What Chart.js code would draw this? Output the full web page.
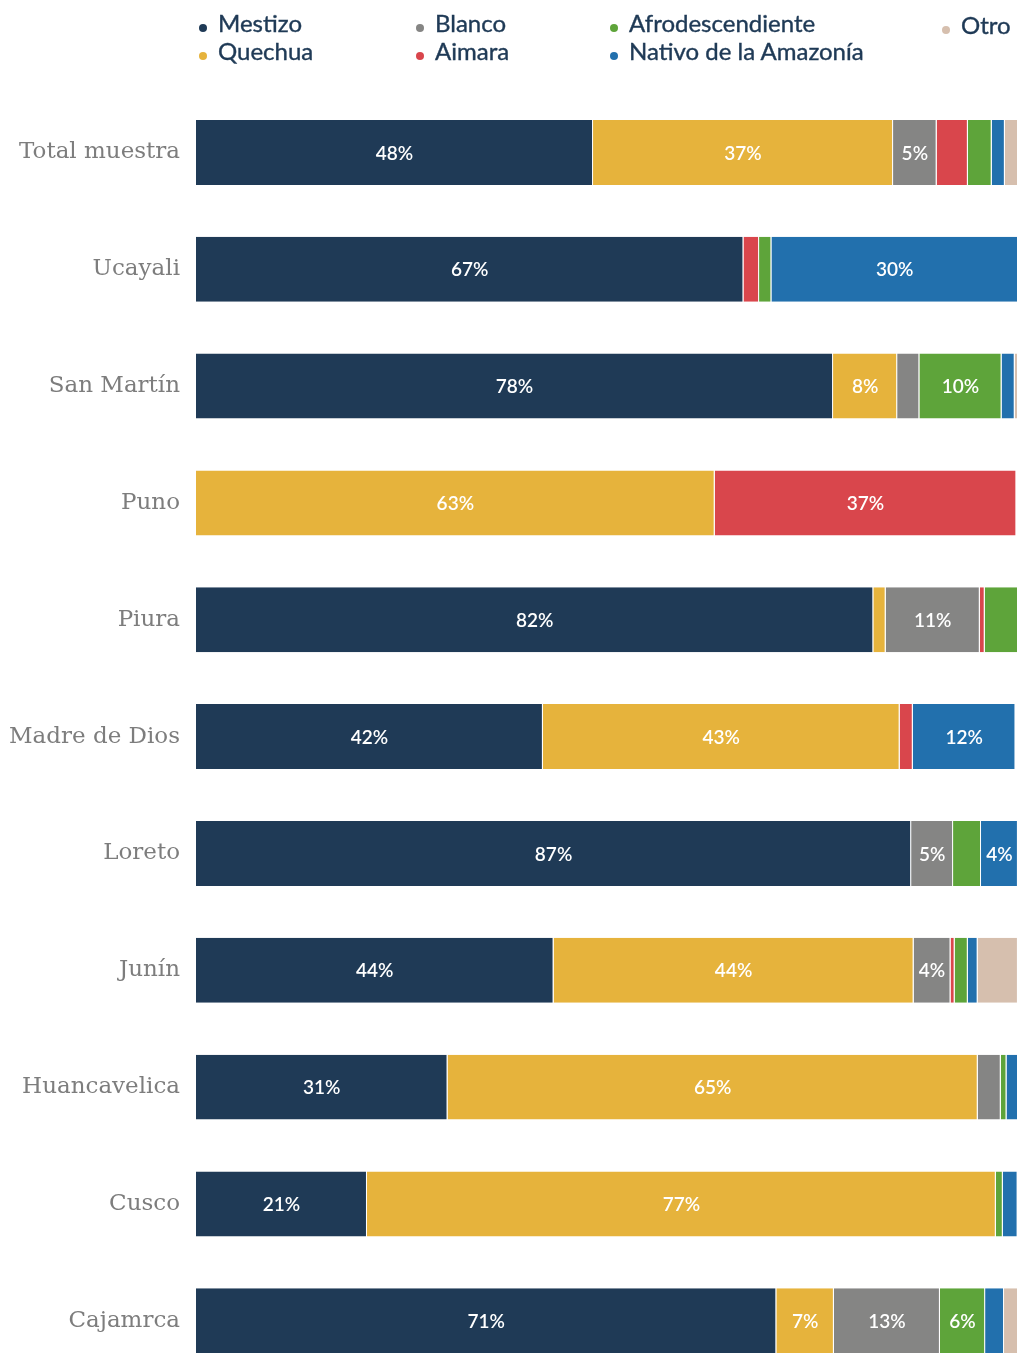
<!DOCTYPE html>
<html lang="es">
  <head>
    <meta charset="UTF-8" />
    <script src="https://cdn.jsdelivr.net/npm/chart.js@4.4.0/dist/chart.umd.min.js"></script>
    <title>Autoidentificación étnica por región</title>
    <style>
      body {
        margin: 0;
        padding: 0;
        background: #fff;
        overflow: hidden;
      }

      .wrap {
        position: relative;
        width: 1018px;
        height: 1401px;
      }

      .legend {
        position: absolute;
        left: 0;
        top: 0;
        width: 1018px;
        height: 80px;
        font-family: Lato, sans-serif;
        font-size: 24px;
        color: #1f3a56;
        -webkit-text-stroke: 0.4px #1f3a56;
      }

      .legend span {
        position: absolute;
        white-space: nowrap;
        line-height: 28px;
      }

      .legend i {
        position: absolute;
        width: 8px;
        height: 8px;
        border-radius: 50%;
      }
    </style>
  </head>
  <body>
    <div class="wrap">
      <div class="legend" id="legend"></div>
      <canvas id="chart" width="1018" height="1401"></canvas>
    </div>
    <script>
      const regions = ['Total muestra', 'Ucayali', 'San Martín', 'Puno', 'Piura', 'Madre de Dios', 'Loreto', 'Junín', 'Huancavelica', 'Cusco', 'Cajamrca']

      const mestizo = [48.3, 66.6, 77.5, 0, 82.4, 42.2, 87.0, 43.5, 30.6, 20.8, 70.6]
      const quechua = [36.5, 0, 7.8, 63.1, 1.5, 43.4, 0, 43.8, 64.5, 76.5, 7.0]
      const blanco = [5.3, 0, 2.7, 0, 11.45, 0, 5.1, 4.49, 2.8, 0, 12.9]
      const aimara = [3.8, 1.9, 0, 36.7, 0.6, 1.6, 0, 0.5, 0, 0, 0]
      const afro = [2.9, 1.5, 10.0, 0, 4.05, 0, 3.4, 1.6, 0.7, 0.85, 5.5]
      const nativo = [1.6, 30.0, 1.6, 0, 0, 12.49, 4.49, 1.2, 1.4, 1.8, 2.3]
      const otro = [1.6, 0, 0.4, 0, 0, 0, 0, 4.9, 0, 0, 1.7]

      const groups = [
        { name: 'Mestizo', data: mestizo, color: '#1f3a56' },
        { name: 'Quechua', data: quechua, color: '#e6b33c' },
        { name: 'Blanco', data: blanco, color: '#858584' },
        { name: 'Aimara', data: aimara, color: '#d9464c' },
        { name: 'Afrodescendiente', data: afro, color: '#5ea43a' },
        { name: 'Nativo de la Amazonía', data: nativo, color: '#2270ad' },
        { name: 'Otro', data: otro, color: '#d6bfae' },
      ]

      // legend laid out column by column, like the original
      const legendSlots = [
        [203, 9], [203, 37], [420, 9], [420, 37], [614, 9], [614, 37], [946, 11],
      ]
      const legendEl = document.getElementById('legend')
      groups.forEach((g, i) => {
        const [x, y] = legendSlots[i]
        const dot = document.createElement('i')
        dot.style.left = x - 4 + 'px'
        dot.style.top = y + 15 + 'px'
        dot.style.background = g.color
        const txt = document.createElement('span')
        txt.style.left = x + 15 + 'px'
        txt.style.top = y + 'px'
        txt.textContent = g.name
        legendEl.appendChild(dot)
        legendEl.appendChild(txt)
      })

      const barLabels = {
        id: 'barLabels',
        afterDatasetsDraw(chart) {
          const ctx = chart.ctx
          ctx.save()
          ctx.fillStyle = '#ffffff'
          ctx.font = '600 19px Lato'
          ctx.textAlign = 'center'
          ctx.textBaseline = 'middle'
          chart.data.datasets.forEach((ds, di) => {
            if (ds.label === 'Otro') return
            chart.getDatasetMeta(di).data.forEach((el, i) => {
              const v = ds.data[i]
              if (v < 4.2) return
              ctx.fillText(Math.round(v) + '%', (el.x + el.base) / 2, el.y + 1)
            })
          })
          ctx.restore()
        },
      }

      new Chart(document.getElementById('chart'), {
        type: 'bar',
        data: {
          labels: regions,
          datasets: groups.map((g) => ({
            label: g.name,
            data: g.data,
            backgroundColor: g.color,
            borderColor: '#ffffff',
            borderWidth: { top: 0, bottom: 0, left: 0, right: 1 },
            borderSkipped: false,
            barPercentage: 0.556,
            categoryPercentage: 1,
          })),
        },
        options: {
          indexAxis: 'y',
          responsive: false,
          animation: false,
          layout: { padding: { top: 94, right: 0, bottom: 0, left: 0 } },
          plugins: {
            legend: { display: false },
            tooltip: { enabled: false },
          },
          scales: {
            x: {
              stacked: true,
              min: 0,
              max: 100,
              display: false,
            },
            y: {
              stacked: true,
              grid: { display: false },
              border: { display: false },
              afterFit: (scale) => {
                scale.width = 196
              },
              ticks: {
                padding: 8,
                color: '#7d7d7d',
                font: { family: 'DejaVu Serif', size: 23 },
              },
            },
          },
        },
        plugins: [barLabels],
      })
    </script>
  </body>
</html>
